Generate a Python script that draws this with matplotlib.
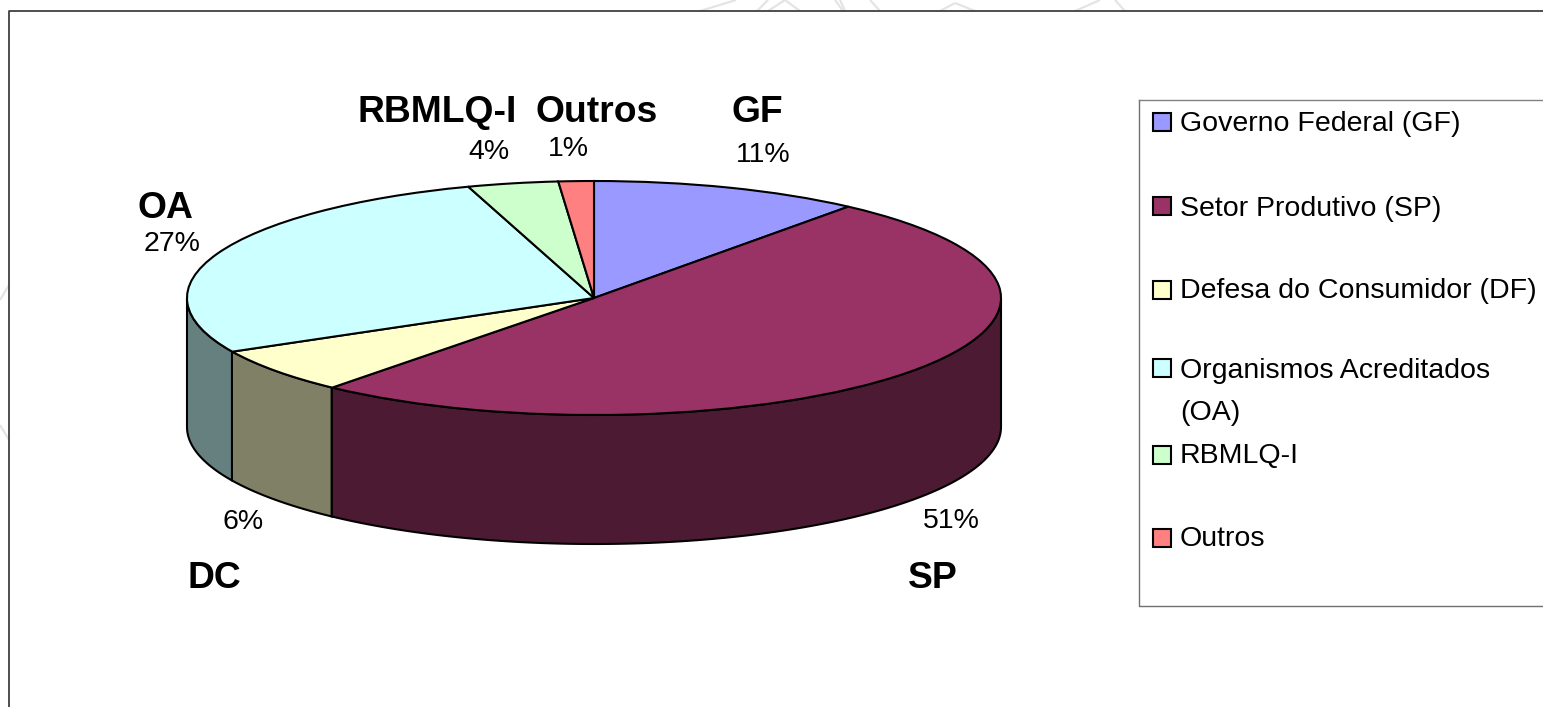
import matplotlib
matplotlib.use("Agg")
import matplotlib.pyplot as plt
from matplotlib.patches import Rectangle
import numpy as np

plt.rcParams["font.family"] = ["Liberation Sans", "DejaVu Sans"]

W, H = 1543, 707

# dados
siglas = ["GF", "SP", "DC", "OA", "RBMLQ-I", "Outros"]
valores = [10.75, 50.4, 6.3, 27.6, 3.6, 1.4]
percentuais = ["11%", "51%", "6%", "27%", "4%", "1%"]
legenda = ["Governo Federal (GF)", "Setor Produtivo (SP)", "Defesa do Consumidor (DF)",
           "Organismos Acreditados\n(OA)", "RBMLQ-I", "Outros"]
cores = ["#9999FF", "#993366", "#FFFFCC", "#CCFFFF", "#CCFFCC", "#FF8080"]
cores_lado = ["#4D4D80", "#4D1A33", "#808066", "#668080", "#668066", "#804040"]

# posicoes em pixels
pos_sigla = [(757, 113), (933, 579), (214, 579), (165, 209), (437, 113), (597, 113)]
pos_pct = [(763, 155), (951, 521), (243, 522), (172, 244), (489, 152), (568, 149)]
y_legenda = [122, 206, 290, 368, 455, 538]
y_texto_legenda = [124, 209, 291, 392, 456, 539]

fig = plt.figure(figsize=(W / 100, H / 100), dpi=100, facecolor="white")

# camada de fundo em pixels
bg = fig.add_axes([0, 0, 1, 1])
bg.set_xlim(0, W)
bg.set_ylim(H, 0)
bg.axis("off")

# marca d'agua fraca fora do quadro
marca = [((700, 11), (736, 0)), ((757, 11), (768, 0)), ((768, 11), (785, 0)), ((785, 0), (800, 11)),
         ((835, 0), (843, 11)), ((840, 0), (845, 11)), ((870, 0), (880, 11)), ((940, 11), (955, 3)),
         ((955, 3), (975, 11)), ((1075, 11), (1100, 0)), ((1115, 0), (1125, 11)),
         ((0, 300), (9, 285)), ((0, 425), (9, 440))]
for a, b in marca:
    bg.plot([a[0], b[0]], [a[1], b[1]], color="#E4E4E4", lw=1.6, solid_capstyle="butt")

bg.plot([9, 9, W], [H, 11, 11], color="#404040", lw=1.3)
bg.plot([1138.8, 1138.8, W], [99.5, 605.5, 605.5], color="#707070", lw=1.0)
bg.plot([1138.8, W], [99.5, 99.5], color="#808080", lw=1.0)

# pizza: circulo unitario esticado ate a elipse
x0, x1, ytop, ybot = 187, 1001, 181, 415
ax = fig.add_axes([x0 / W, 1 - ybot / H, (x1 - x0) / W, (ybot - ytop) / H])
ax.pie(valores, colors=cores, startangle=90, counterclock=False, radius=1,
       wedgeprops={"edgecolor": "black", "linewidth": 1.5, "zorder": 5})
ax.set_aspect("auto")
ax.set_xlim(-1, 1)
ax.set_ylim(-1, 1)

prof = 129 / ((ybot - ytop) / 2)
fim = 90 - np.cumsum(valores) * 3.6
inicio = np.concatenate([[90], fim[:-1]])
for i in range(len(valores)):
    # so a parte da frente (metade de baixo, -180 a 0 graus) aparece
    a1 = max(fim[i], -180)
    a2 = min(inicio[i], 0)
    if a1 >= a2:
        continue
    t = np.radians(np.linspace(a1, a2, 120))
    xs = np.cos(t)
    ys = np.sin(t)
    px = np.concatenate([xs, xs[::-1]])
    py = np.concatenate([ys, ys[::-1] - prof])
    ax.fill(px, py, facecolor=cores_lado[i], edgecolor="black", lw=1.5, zorder=2, clip_on=False)

# rotulos
for s, p in zip(siglas, pos_sigla):
    bg.text(p[0], p[1], s, fontsize=26.8, fontweight="bold", ha="center", va="center")
for s, p in zip(percentuais, pos_pct):
    bg.text(p[0], p[1], s, fontsize=20.5, ha="center", va="center")

# legenda
for i in range(len(legenda)):
    bg.add_patch(Rectangle((1153, y_legenda[i] - 9), 17.5, 18, facecolor=cores[i], edgecolor="black", lw=1.5))
    bg.text(1180, y_texto_legenda[i], legenda[i], fontsize=20.5, ha="left", va="center", linespacing=1.76)

fig.savefig("out.png", dpi=100)
